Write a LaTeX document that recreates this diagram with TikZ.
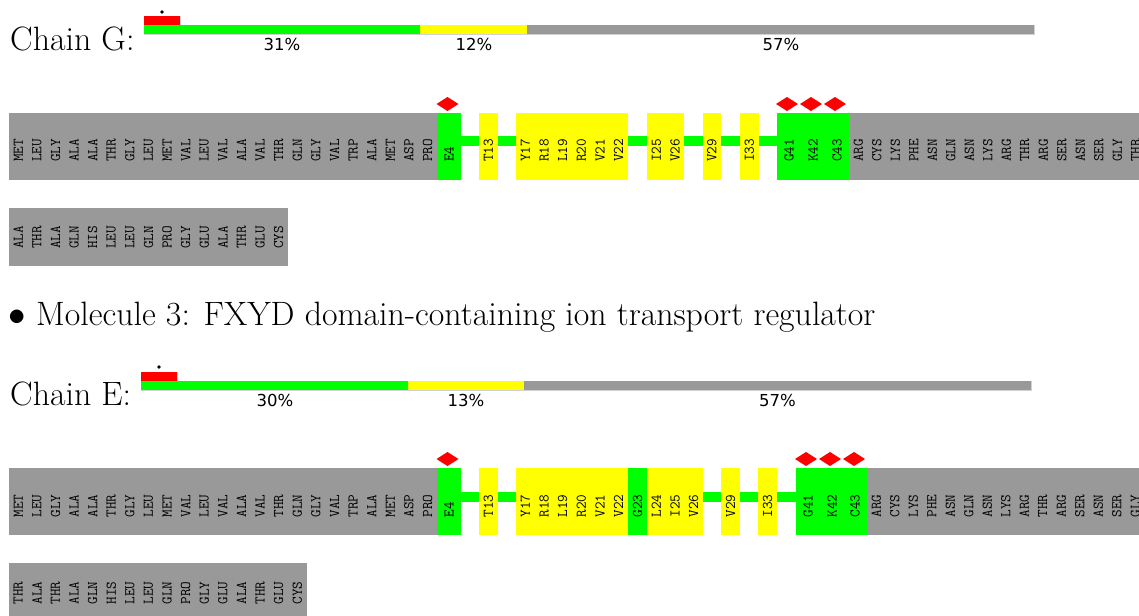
\documentclass[tikz,border=0pt]{standalone}
\usepackage{fontspec}
\usepackage{graphicx}
\newfontfamily\pctfont{DejaVu Sans}
\definecolor{resgreen}{RGB}{0,255,0}
\definecolor{resyellow}{RGB}{255,255,0}
\definecolor{resgray}{RGB}{153,153,153}
\definecolor{resred}{RGB}{255,0,0}
\newcommand{\resdia}[2]{\fill[resred] (#1-11,#2) -- (#1,#2-7) -- (#1+11,#2) -- (#1,#2+7) -- cycle;}
\begin{document}
\begin{tikzpicture}[x=1pt,y=-1pt,
  res/.style={rotate=90,anchor=west,inner sep=0pt,font=\fontsize{14.8}{14.8}\selectfont\ttfamily},
  pct/.style={inner sep=0pt,font=\fontsize{16.5}{16.5}\selectfont\pctfont},
  big/.style={inner sep=0pt,anchor=base west,font=\fontsize{33.8}{40}\selectfont},
  barline/.style={draw=black!18,line width=0.8pt},
]
\useasboundingbox (0,0) rectangle (1139,615);

% ================= Chain G =================
\fill[resred] (144,16) rectangle (180,25);
\fill[resgreen] (144,25) rectangle (420,34);
\fill[resyellow] (420,25) rectangle (527,34);
\fill[resgray] (527,25) rectangle (1034,34);
\draw[barline] (144,34) -- (1034,34) -- (1034,25);
\draw[barline] (180,16) -- (180,25);
\fill (162,12) circle (1.8);
\node[big] (chainG) at (10,50.5) {Chain G:};
\node[pct] (g31) at (282,44) {31\%};
\node[pct] (g12) at (474,44) {12\%};
\node[pct] (g57) at (781,44) {57\%};

% row 1
\fill[resgreen] (461,136) rectangle (777,146);
\fill[resgray] (9,113) rectangle (437,180);
\fill[resgreen] (437,113) rectangle (461,180);
\fill[resyellow] (479,113) rectangle (497.6,180);
\fill[resyellow] (516,113) rectangle (628,180);
\fill[resyellow] (647,113) rectangle (684.2,180);
\fill[resyellow] (702.6,113) rectangle (721.2,180);
\fill[resyellow] (740,113) rectangle (758.6,180);
\fill[resgreen] (777,113) rectangle (849,180);
\fill[resgray] (849,113) rectangle (1139,180);
\resdia{447.5}{104}
\resdia{787}{104}
\resdia{811}{104}
\resdia{835}{104}
\foreach \r [count=\i] in {MET,LEU,GLY,ALA,ALA,THR,GLY,LEU,MET,VAL,LEU,VAL,ALA,VAL,THR,GLN,GLY,VAL,TRP,ALA,MET,ASP,PRO}
  \node[res] (gA\i) at ({9+18.6*(\i-0.5)},162) {\r};
\node[res] (gE4) at (449,162) {E4};
\node[res] (gT13) at (488.3,162) {T13};
\foreach \r [count=\i] in {Y17,R18,L19,R20,V21,V22}
  \node[res] (gB\i) at ({516+18.67*(\i-0.5)},162) {\r};
\node[res] (gI25) at (656.3,162) {I25};
\node[res] (gV26) at (675,162) {V26};
\node[res] (gV29) at (711.9,162) {V29};
\node[res] (gI33) at (749.3,162) {I33};
\node[res] (gG41) at (789,162) {G41};
\node[res] (gK42) at (813,162) {K42};
\node[res] (gC43) at (837,162) {C43};
\foreach \r [count=\i] in {ARG,CYS,LYS,PHE,ASN,GLN,ASN,LYS,ARG,THR,ARG,SER,ASN,SER,GLY,THR}
  \node[res] (gC\i) at ({849+18.5*(\i-0.5)},162) {\r};

% row 2
\fill[resgray] (9,208) rectangle (288,266);
\foreach \r [count=\i] in {ALA,THR,ALA,GLN,HIS,LEU,LEU,GLN,PRO,GLY,GLU,ALA,THR,GLU,CYS}
  \node[res] (gD\i) at ({9+18.6*(\i-0.5)},249) {\r};

% ================= Molecule 3 =================
\node[inner sep=0pt,font=\fontsize{33.8}{40}\selectfont] (bullet) at (17,317.5) {\scalebox{1.4}{$\bullet$}};
\node[big] (mol3) at (36,325) {Molecule 3: FXYD domain-containing ion transport regulator};

% ================= Chain E =================
\fill[resred] (141,371.5) rectangle (177,380.5);
\fill[resgreen] (141,380.5) rectangle (408,390);
\fill[resyellow] (408,380.5) rectangle (524,390);
\fill[resgray] (524,380.5) rectangle (1031,390);
\draw[barline] (141,390) -- (1031,390) -- (1031,380.5);
\draw[barline] (177,371.5) -- (177,380.5);
\fill (159,367) circle (1.8);
\node[big] (chainE) at (10,405.5) {Chain E:};
\node[pct] (e30) at (275,400) {30\%};
\node[pct] (e13) at (466,400) {13\%};
\node[pct] (e57) at (777.5,400) {57\%};

% row 1
\fill[resgreen] (461,492) rectangle (796,502);
\fill[resgray] (9,468) rectangle (437,535);
\fill[resgreen] (437,468) rectangle (461,535);
\fill[resyellow] (479,468) rectangle (497.6,535);
\fill[resyellow] (516,468) rectangle (628,535);
\fill[resgreen] (628,468) rectangle (647,535);
\fill[resyellow] (647,468) rectangle (703,535);
\fill[resyellow] (721,468) rectangle (740,535);
\fill[resyellow] (758,468) rectangle (777,535);
\fill[resgreen] (796,468) rectangle (867,535);
\fill[resgray] (867,468) rectangle (1139,535);
\resdia{447.5}{459}
\resdia{806}{459}
\resdia{830}{459}
\resdia{854}{459}
\foreach \r [count=\i] in {MET,LEU,GLY,ALA,ALA,THR,GLY,LEU,MET,VAL,LEU,VAL,ALA,VAL,THR,GLN,GLY,VAL,TRP,ALA,MET,ASP,PRO}
  \node[res] (eA\i) at ({9+18.6*(\i-0.5)},517.5) {\r};
\node[res] (eE4) at (449,517.5) {E4};
\node[res] (eT13) at (488.3,517.5) {T13};
\foreach \r [count=\i] in {Y17,R18,L19,R20,V21,V22}
  \node[res] (eB\i) at ({516+18.67*(\i-0.5)},517.5) {\r};
\node[res] (eG23) at (637.5,517.5) {G23};
\foreach \r [count=\i] in {L24,I25,V26}
  \node[res] (eF\i) at ({647+18.67*(\i-0.5)},517.5) {\r};
\node[res] (eV29) at (730.5,517.5) {V29};
\node[res] (eI33) at (767.5,517.5) {I33};
\node[res] (eG41) at (808,517.5) {G41};
\node[res] (eK42) at (832,517.5) {K42};
\node[res] (eC43) at (855,517.5) {C43};
\foreach \r [count=\i] in {ARG,CYS,LYS,PHE,ASN,GLN,ASN,LYS,ARG,THR,ARG,SER,ASN,SER,GLY}
  \node[res] (eC\i) at ({867+18.5*(\i-0.5)},517.5) {\r};

% row 2
\fill[resgray] (9,563) rectangle (307,621);
\foreach \r [count=\i] in {THR,ALA,THR,ALA,GLN,HIS,LEU,LEU,GLN,PRO,GLY,GLU,ALA,THR,GLU,CYS}
  \node[res] (eD\i) at ({9+18.6*(\i-0.5)},604.5) {\r};
\end{tikzpicture}
\end{document}
